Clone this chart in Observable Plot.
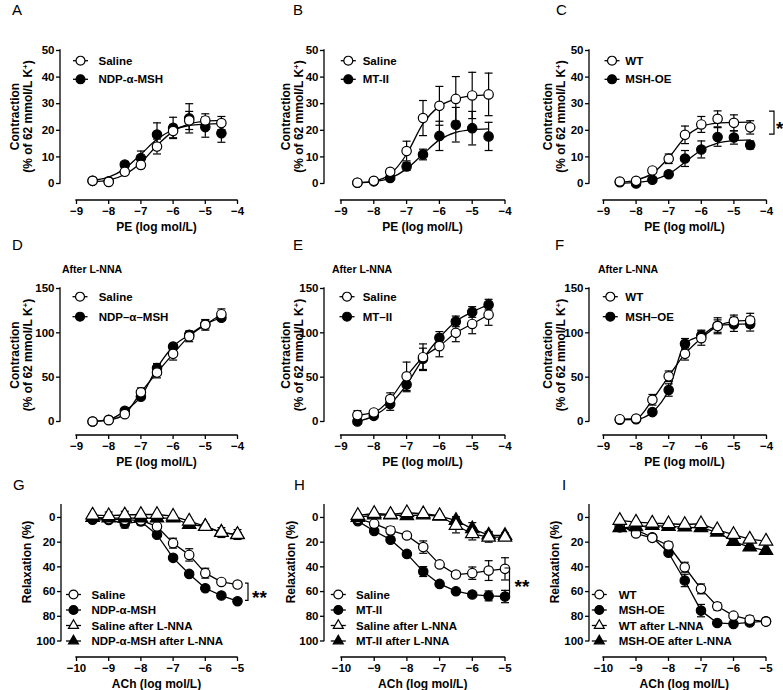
<!DOCTYPE html>
<html><head><meta charset="utf-8">
<script src="https://cdn.jsdelivr.net/npm/d3@7"></script>
<script src="https://cdn.jsdelivr.net/npm/@observablehq/plot@0.6"></script>
<style>
html,body{margin:0;padding:0;background:#fff;}
#fig{position:relative;width:783px;height:690px;overflow:hidden;background:#fff;}
</style></head><body><div id="fig"></div>
<script>
// ---------- doses & ticks ----------
const peX = [-8.5, -8, -7.5, -7, -6.5, -6, -5.5, -5, -4.5];
const achX = [-9.5, -9, -8.5, -8, -7.5, -7, -6.5, -6, -5.5, -5];
const peTicks = [-9, -8, -7, -6, -5, -4];
const achTicks = [-10, -9, -8, -7, -6, -5];
const contrTicksLow = [0, 10, 20, 30, 40, 50];
const contrTicksHigh = [0, 50, 100, 150];
const relaxTicks = [0, 20, 40, 60, 80, 100];

// ---------- Panel A ----------
const aSaline    = [1.0, 0.6, 4.4, 7.0, 13.9, 19.7, 23.7, 23.7, 22.7];
const aSalineErr = [0.5, 0.5, 0.8, 1.2, 2.8, 2.5, 3.4, 2.5, 2.5];
const aSalineFit = [0.7, 1.3, 3.4, 7.8, 14.3, 19.6, 22.4, 23.4, 23.7];
const aNdp       = [1.0, 0.8, 7.1, 9.6, 18.4, 20.9, 24.5, 21.2, 18.9];
const aNdpErr    = [0.5, 0.5, 1.0, 2.6, 4.4, 4.0, 5.5, 3.8, 3.4];
const aNdpFit    = [1.2, 2.4, 5.6, 11.0, 16.6, 20.2, 21.8, 22.3, 22.5];
// ---------- Panel B ----------
const bSaline    = [0.3, 1.0, 4.4, 12.2, 24.6, 29.2, 31.8, 33.1, 33.5];
const bSalineErr = [0.5, 0.5, 1.0, 3.7, 6.6, 7.3, 8.4, 8.7, 8.0];
const bSalineFit = [0.3, 0.9, 3.5, 11.0, 22.5, 29.0, 31.8, 32.9, 33.3];
const bMt        = [0.3, 0.8, 2.1, 6.4, 10.9, 17.9, 22.1, 20.8, 17.7];
const bMtErr     = [0.4, 0.4, 0.8, 1.5, 2.0, 5.5, 6.5, 6.3, 5.3];
const bMtFit     = [0.2, 0.7, 2.0, 5.5, 11.0, 16.4, 19.2, 20.2, 20.5];
// ---------- Panel C ----------
const cWt        = [0.75, 1.0, 4.9, 9.3, 18.3, 22.2, 24.3, 22.8, 21.1];
const cWtErr     = [0.4, 0.5, 1.0, 1.8, 3.3, 3.0, 3.0, 3.0, 2.5];
const cWtFit     = [0.5, 1.3, 3.8, 9.7, 17.3, 21.4, 22.7, 23.0, 23.1];
const cMsh       = [0.5, 0.0, 1.4, 3.5, 9.4, 12.8, 17.5, 17.3, 14.5];
const cMshErr    = [0.3, 0.3, 0.5, 0.8, 3.0, 3.2, 3.5, 2.5, 1.5];
const cMshFit    = [0.1, 0.4, 1.3, 3.6, 8.0, 12.6, 15.2, 16.1, 16.4];
const cBracket   = [27, 18.4];
// ---------- Panel D ----------
const dSaline    = [0, 1.5, 8.3, 32.9, 55.2, 76.3, 96, 109, 121];
const dSalineErr = [1, 1.5, 2, 5, 6, 7, 6, 6, 6];
const dNdp       = [0, 2, 12, 28, 60.4, 84.6, 97.8, 109.6, 117];
const dNdpErr    = [1, 1, 2, 3, 5, 3, 4, 5, 3];
// ---------- Panel E ----------
const eSaline    = [7.2, 10.2, 25.3, 51, 72.5, 85, 100, 110, 120.5];
const eSalineErr = [5, 3, 7, 16, 15, 12, 10, 11, 12];
const eMt        = [0, 6.4, 19.6, 41.6, 70.7, 94.4, 112.9, 123.5, 131.8];
const eMtErr     = [2, 2, 7, 8, 12, 7, 6, 6, 6];
// ---------- Panel F ----------
const fWt        = [2.6, 3.4, 24.5, 51, 76.3, 94, 107.6, 113, 114];
const fWtErr     = [1, 1, 6, 6, 7, 8, 7, 7, 8];
const fMsh       = [2, 2.5, 10.6, 35.5, 87.6, 97, 108, 109.6, 110];
const fMshErr    = [1, 1, 2, 7, 6, 6, 9, 8, 8];
// ---------- Panel G ----------
const gSaline     = [0, 1.3, 2, 2.4, 7.3, 20.8, 30.3, 45.1, 52.2, 54.3];
const gSalineErr  = [1, 1, 1, 1, 2, 4, 5, 4, 2, 2];
const gNdp        = [1.9, 2, 5, 3.2, 14, 32.7, 45.7, 57.3, 63.2, 67.8];
const gNdpErr     = [1, 1, 3.5, 3, 1.5, 1.5, 1.5, 1.5, 1.5, 1.5];
const gSalineL    = [-1.9, -1.4, -2, -2.4, -2.4, -1, 3, 7.3, 12.2, 13.8];
const gSalineLErr = [1, 3, 3, 1, 1, 1, 1, 2, 4, 4];
const gNdpL       = [0, 0.5, 0.5, 0.5, 0.5, 0.5, 5.7, 7.3, 12, 14];
const gNdpLErr    = [1, 1, 1, 1, 1, 1, 1, 1, 2, 2];
const gBracket    = [53.5, 67.5];
// ---------- Panel H ----------
const hSaline     = [1, 5, 10.5, 14.6, 24, 38, 46.2, 45.1, 43, 41.6];
const hSalineErr  = [1, 1.5, 3, 1.5, 5, 1.5, 1.5, 5, 8, 9];
const hMt         = [3, 11, 18, 29.5, 43.8, 53.8, 59.7, 62.4, 63.5, 64];
const hMtErr      = [1, 1, 1, 1, 4, 1, 1, 1, 4, 5];
const hSalineL    = [-1.6, -3.2, -2.4, -3.8, -3, -1.4, 6.5, 13.2, 16, 16];
const hSalineLErr = [1, 1, 1, 1, 1, 1, 6, 5, 4, 2];
const hMtL        = [0, -2, -2, -1.4, -2, -1, 2.4, 9.2, 14.3, 14.6];
const hMtLErr     = [1, 1, 1, 2, 1, 1, 3, 5, 3, 2];
const hBracket    = [41.3, 62.5];
// ---------- Panel I ----------
const iWt         = [6, 13, 16.5, 22.7, 40.3, 57.8, 71.9, 79.5, 82.7, 84.3];
const iWtErr      = [1, 1, 1, 3, 4, 4, 3, 1.5, 3, 1.5];
const iMsh        = [8, 10, 16, 28.6, 51, 75.4, 85.4, 86.2, 85, 84];
const iMshErr     = [1, 1, 1, 1.5, 5, 5, 1.5, 1.5, 1.5, 1.5];
const iWtL        = [2.4, 3.8, 4.6, 5.1, 5.7, 5.1, 10, 13.8, 17.6, 19.2];
const iWtLErr     = [1, 1, 1, 1, 1, 1, 1.5, 1.5, 1.5, 1.5];
const iMshL       = [8.4, 7.6, 6.5, 7.3, 7.8, 8.4, 11.9, 19.5, 24, 26.8];
const iMshLErr    = [1, 1, 1, 1, 1, 1, 1.5, 1.5, 1.5, 1.5];

// ---------- legend labels ----------
const legA = ["Saline", "NDP-α-MSH"];
const legB = ["Saline", "MT-II"];
const legC = ["WT", "MSH-OE"];
const legD = ["Saline", "NDP–α–MSH"];
const legE = ["Saline", "MT–II"];
const legF = ["WT", "MSH–OE"];
const legG = ["Saline", "NDP-α-MSH", "Saline after L-NNA", "NDP-α-MSH after L-NNA"];
const legH = ["Saline", "MT-II", "Saline after L-NNA", "MT-II after L-NNA"];
const legI = ["WT", "MSH-OE", "WT after L-NNA", "MSH-OE after L-NNA"];

const FONT = "'Liberation Sans', Arial, Helvetica, sans-serif";
const fig = document.getElementById("fig");
const cap = {draw(ctx, size) { const r = Math.sqrt(size / Math.PI); ctx.moveTo(-r, 0); ctx.lineTo(r, 0); }};
const OC = {sym: "circle", filled: false}, FC = {sym: "circle", filled: true};
const OT = {sym: "triangle", filled: false}, FT = {sym: "triangle", filled: true};
const symR = s => s === "triangle" ? 5 : 4.7;

function decor(p) {
  return (index, scales, values, dims) => {
    const L = p.left, T = p.top;
    const g = d3.create("svg:g").attr("font-family", FONT).attr("fill", "black").attr("text-anchor", "start");
    const ax = g.append("g").attr("stroke", "black").attr("stroke-width", 1.3).attr("fill", "none").attr("stroke-linecap", "square");
    const x0 = dims.marginLeft, yb = dims.height - dims.marginBottom;
    ax.append("line").attr("x1", x0).attr("x2", x0).attr("y1", scales.y(p.yd[0])).attr("y2", scales.y(p.yd[1]));
    ax.append("line").attr("x1", scales.x(p.xd[0])).attr("x2", scales.x(p.xd[1])).attr("y1", yb).attr("y2", yb);
    // panel letter
    g.append("text").attr("x", p.letter[1] - L).attr("y", p.letter[2] - T).attr("font-size", 15).attr("font-weight", "normal").text(p.letter[0]);
    // subtitle
    if (p.sub) g.append("text").attr("x", p.sub[1] - L).attr("y", p.sub[2] - T).attr("font-size", 10.5).attr("font-weight", "bold").text(p.sub[0]);
    // x title
    g.append("text").attr("x", (scales.x(p.xd[0]) + scales.x(p.xd[1])) / 2).attr("y", p.xlab[1] - T)
      .attr("text-anchor", "middle").attr("font-size", 12).attr("font-weight", "bold").text(p.xlab[0]);
    // y title
    p.ylab.lines.forEach((ln, i) => {
      const t = g.append("text").attr("transform", `translate(${p.ylab.xs[i] + 4 - L},${p.ylab.cy - T}) rotate(-90)`)
        .attr("text-anchor", "middle").attr("font-size", 12).attr("font-weight", "bold");
      if (ln.endsWith("K+)")) {
        t.append("tspan").text(ln.slice(0, -2));
        t.append("tspan").attr("dy", -4).attr("font-size", 8).text("+");
        t.append("tspan").attr("dy", 4).text(")");
      } else t.text(ln);
    });
    // legend
    p.leg.items.forEach((it, i) => {
      const cy = p.leg.y0 + i * p.leg.dy - T, cx = p.leg.cx - L;
      g.append("line").attr("x1", cx - 7.5).attr("x2", cx + 7.5).attr("y1", cy).attr("y2", cy).attr("stroke", "black").attr("stroke-width", 1.3);
      const r = symR(it.sym) * 0.95;
      const type = it.sym === "triangle" ? d3.symbolTriangle2 : d3.symbolCircle;
      g.append("path").attr("d", d3.symbol(type, r * r * Math.PI)()).attr("transform", `translate(${cx},${cy})`)
        .attr("fill", it.filled ? "black" : "white").attr("stroke", "black").attr("stroke-width", 1.2);
      g.append("text").attr("x", p.leg.tx - L).attr("y", cy + 4).attr("font-size", 11.5).attr("font-weight", "bold").text(it.label);
    });
    // significance bracket
    if (p.br) {
      const y1 = scales.y(p.br.v[0]), y2 = scales.y(p.br.v[1]), xe = scales.x(p.xd[1]);
      g.append("path").attr("d", `M${xe + p.br.a},${y1}H${xe + p.br.b}V${y2}H${xe + p.br.a}`)
        .attr("fill", "none").attr("stroke", "black").attr("stroke-width", 1.2);
      g.append("text").attr("x", xe + p.br.s).attr("y", (y1 + y2) / 2 + 12).attr("font-size", 19).attr("font-weight", "bold").text(p.br.t);
    }
    return g.node();
  };
}

function build(p) {
  const L = p.left, T = p.top;
  const marks = [];
  for (const s of p.series) {
    const rows = p.xs.map((x, i) => ({x, y: s.y[i], e: s.err[i], f: s.fit ? s.fit[i] : s.y[i]}));
    marks.push(Plot.line(rows, {x: "x", y: "f", curve: p.curve, stroke: "black", strokeWidth: 1.3}));
    marks.push(Plot.ruleX(rows, {x: "x", y1: d => d.y - d.e, y2: d => d.y + d.e, stroke: "black", strokeWidth: 1.2}));
    marks.push(Plot.dot(rows, {x: "x", y: d => d.y + d.e, symbol: cap, r: 4, fill: "none", stroke: "black", strokeWidth: 1.2}));
    marks.push(Plot.dot(rows, {x: "x", y: d => d.y - d.e, symbol: cap, r: 4, fill: "none", stroke: "black", strokeWidth: 1.2}));
    marks.push(Plot.dot(rows, {x: "x", y: "y", symbol: s.sym, r: symR(s.sym), fill: s.filled ? "black" : "white", stroke: "black", strokeWidth: 1.2}));
  }
  marks.push(Plot.axisX({ticks: p.xt, tickFormat: d3.format("d"), tickSize: 4, tickPadding: 2, fontSize: 11.5, fontWeight: "bold", label: null, strokeWidth: 1.3}));
  marks.push(Plot.axisY({ticks: p.yt, tickFormat: d3.format("d"), tickSize: 4, tickPadding: 2, fontSize: 11.5, fontWeight: "bold", label: null, strokeWidth: 1.3}));
  marks.push(decor(p));
  const svg = Plot.plot({
    width: p.w, height: p.h,
    marginLeft: p.axX - L, marginRight: p.w - (p.xr[1] - L),
    marginTop: Math.min(p.yr[0], p.yr[1]) - T, marginBottom: p.h - (p.axY - T),
    x: {domain: p.xd, range: [p.xr[0] - L, p.xr[1] - L]},
    y: {domain: p.yd, range: [p.yr[0] - T, p.yr[1] - T]},
    style: {background: "transparent", color: "black", fontFamily: FONT, fontSize: "11px", overflow: "visible"},
    marks
  });
  svg.style.position = "absolute";
  svg.style.left = L + "px";
  svg.style.top = T + "px";
  svg.style.maxWidth = "none";
  fig.appendChild(svg);
}

const items = (labels, styles) => labels.map((label, i) => ({label, ...styles[i]}));
const row1 = {top: 0, h: 236, xd: [-9, -4], xt: peTicks, yd: [0, 50], yr: [183, 50], yt: contrTicksLow, axY: 200, xs: peX,
  xlab: ["PE (log mol/L)", 230.5], curve: "monotone-x"};
const row2 = {top: 232, h: 236, xd: [-9, -4], xt: peTicks, yd: [0, 150], yr: [421, 288], yt: contrTicksHigh, axY: 435, xs: peX,
  xlab: ["PE (log mol/L)", 466], curve: "monotone-x"};
const row3 = {top: 465, h: 225, xd: [-10, -5], xt: achTicks, yd: [-10, 100], yr: [504.6, 640.5], yt: relaxTicks, axY: 657, xs: achX,
  xlab: ["ACh (log mol/L)", 688], curve: "linear"};
const contrLab = ["Contraction", "(% of 62 mmol/L K+)"];

const panels = [
  {...row1, left: 0, w: 261, axX: 60, xr: [76, 237], letter: ["A", 12, 15],
   ylab: {lines: contrLab, xs: [15, 28], cy: 116.5},
   series: [{y: aNdp, err: aNdpErr, fit: aNdpFit, ...FC}, {y: aSaline, err: aSalineErr, fit: aSalineFit, ...OC}],
   leg: {items: items(legA, [OC, FC]), cx: 80.5, tx: 98.5, y0: 60.7, dy: 18.6}},
  {...row1, left: 261, w: 261, axX: 324, xr: [340.5, 504.5], letter: ["B", 293, 15],
   ylab: {lines: contrLab, xs: [286, 299], cy: 116.5},
   series: [{y: bMt, err: bMtErr, fit: bMtFit, ...FC}, {y: bSaline, err: bSalineErr, fit: bSalineFit, ...OC}],
   leg: {items: items(legB, [OC, FC]), cx: 348.3, tx: 362.7, y0: 60.7, dy: 18.6}},
  {...row1, left: 522, w: 261, axX: 589, xr: [603, 766], letter: ["C", 556, 15],
   ylab: {lines: contrLab, xs: [548, 561], cy: 116.5},
   series: [{y: cMsh, err: cMshErr, fit: cMshFit, ...FC}, {y: cWt, err: cWtErr, fit: cWtFit, ...OC}],
   leg: {items: items(legC, [OC, FC]), cx: 612, tx: 625.3, y0: 60.7, dy: 18.6},
   br: {v: cBracket, a: 3, b: 8, s: 10, t: "*"}},
  {...row2, left: 0, w: 261, axX: 60, xr: [76, 237], letter: ["D", 12, 250], sub: ["After L-NNA", 62, 273],
   ylab: {lines: contrLab, xs: [15, 28], cy: 355},
   series: [{y: dNdp, err: dNdpErr, ...FC}, {y: dSaline, err: dSalineErr, ...OC}],
   leg: {items: items(legD, [OC, FC]), cx: 80, tx: 98.7, y0: 296.7, dy: 20}},
  {...row2, left: 261, w: 261, axX: 324, xr: [340.5, 504.5], letter: ["E", 293, 250], sub: ["After L-NNA", 332, 273],
   ylab: {lines: contrLab, xs: [286, 299], cy: 355},
   series: [{y: eMt, err: eMtErr, ...FC}, {y: eSaline, err: eSalineErr, ...OC}],
   leg: {items: items(legE, [OC, FC]), cx: 347, tx: 362.7, y0: 296.7, dy: 20}},
  {...row2, left: 522, w: 261, axX: 589, xr: [603, 766], letter: ["F", 555, 250], sub: ["After L-NNA", 598, 273],
   ylab: {lines: contrLab, xs: [548, 561], cy: 355},
   series: [{y: fMsh, err: fMshErr, ...FC}, {y: fWt, err: fWtErr, ...OC}],
   leg: {items: items(legF, [OC, FC]), cx: 610.3, tx: 625.3, y0: 296.7, dy: 20}},
  {...row3, left: 0, w: 261, axX: 61, xr: [76, 237], letter: ["G", 13, 490],
   ylab: {lines: ["Relaxation (%)"], xs: [27], cy: 562},
   series: [{y: gNdp, err: gNdpErr, ...FC}, {y: gSaline, err: gSalineErr, ...OC}, {y: gNdpL, err: gNdpLErr, ...FT}, {y: gSalineL, err: gSalineLErr, ...OT}],
   leg: {items: items(legG, [OC, FC, OT, FT]), cx: 73.5, tx: 91.5, y0: 594.5, dy: 15.5},
   br: {v: gBracket, a: 8, b: 11, s: 15, t: "**"}},
  {...row3, left: 261, w: 261, axX: 324, xr: [341, 504.5], letter: ["H", 294, 490],
   ylab: {lines: ["Relaxation (%)"], xs: [291], cy: 562},
   series: [{y: hMt, err: hMtErr, ...FC}, {y: hSaline, err: hSalineErr, ...OC}, {y: hMtL, err: hMtLErr, ...FT}, {y: hSalineL, err: hSalineLErr, ...OT}],
   leg: {items: items(legH, [OC, FC, OT, FT]), cx: 338.3, tx: 356, y0: 594.5, dy: 15.5},
   br: {v: hBracket, a: 0, b: 5, s: 10, t: "**"}},
  {...row3, left: 522, w: 261, axX: 589, xr: [603, 765.5], letter: ["I", 562, 490],
   ylab: {lines: ["Relaxation (%)"], xs: [555], cy: 562},
   series: [{y: iMsh, err: iMshErr, ...FC}, {y: iWt, err: iWtErr, ...OC}, {y: iMshL, err: iMshLErr, ...FT}, {y: iWtL, err: iWtLErr, ...OT}],
   leg: {items: items(legI, [OC, FC, OT, FT]), cx: 599.3, tx: 618.7, y0: 594.5, dy: 15.5}}
];
panels.forEach(build);
</script></body></html>
